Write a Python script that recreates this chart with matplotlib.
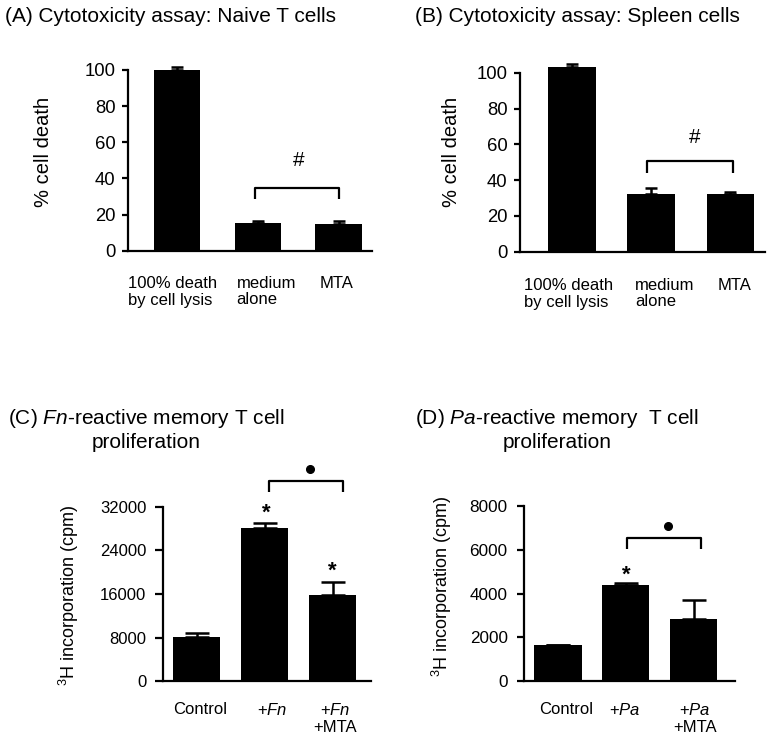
import matplotlib
matplotlib.use("Agg")
import matplotlib.pyplot as plt

plt.rcParams['font.family'] = ['Liberation Sans', 'DejaVu Sans']
plt.rcParams['mathtext.fontset'] = 'custom'
plt.rcParams['mathtext.rm'] = 'Liberation Sans'
plt.rcParams['mathtext.it'] = 'Liberation Sans:italic'

# data
cyto_labels = ['100% death\nby cell lysis', 'medium\nalone', 'MTA']
naive_vals = [100, 15.1, 14.8]
naive_err = [1.5, 1.5, 1.8]
spleen_vals = [103.3, 32.2, 32.2]
spleen_err = [1.3, 3.5, 0.9]

fn_labels = ['Control', '+$\\mathit{Fn}$', '+$\\mathit{Fn}$\n+MTA']
fn_vals = [8120, 28150, 15760]
fn_err = [735, 795, 2440]

pa_labels = ['Control', '+$\\mathit{Pa}$', '+$\\mathit{Pa}$\n+MTA']
pa_vals = [1640, 4380, 2830]
pa_err = [0, 120, 880]

W, H = 771, 741


def box(l, t, r, b):
    return [l / W, 1 - b / H, (r - l) / W, (b - t) / H]


fig = plt.figure(figsize=(W / 100, H / 100), dpi=100)


def draw_bars(rect, vals, errs, width, xlim, ylim, yticks, capsize, tick_fs, tick_len, tick_pad):
    ax = fig.add_axes(rect)
    xs = list(range(len(vals)))
    ax.bar(xs, vals, width=width, color='black', clip_on=False, zorder=2)
    eb = ax.errorbar(xs, vals, yerr=[[0] * len(vals), errs], fmt='none', ecolor='black',
                     elinewidth=1.8, capsize=capsize, capthick=1.8, zorder=3)
    for child in eb.get_children():
        child.set_clip_on(False)
    ax.set_xlim(*xlim)
    ax.set_ylim(*ylim)
    ax.set_yticks(yticks)
    ax.set_xticks([])
    for s in ['top', 'right']:
        ax.spines[s].set_visible(False)
    for s in ['left', 'bottom']:
        ax.spines[s].set_linewidth(1.6)
    ax.tick_params(axis='y', labelsize=tick_fs, length=tick_len, width=1.6, pad=tick_pad)
    ax.patch.set_alpha(0)
    return ax


def cat_labels(ax, labels, xs, dy, ha, fs):
    for lab, x in zip(labels, xs):
        ax.annotate(lab, xy=(x, 0), xycoords=('data', 'axes fraction'), xytext=(0, -dy),
                    textcoords='offset pixels', ha=ha, va='top', fontsize=fs,
                    multialignment=ha, annotation_clip=False, linespacing=1.15)


def bracket(ax, x1, x2, y_end, y_top):
    ax.plot([x1, x1, x2, x2], [y_end, y_top, y_top, y_end], color='black', lw=1.6,
            clip_on=False, solid_capstyle='butt')


# (A)
axA = draw_bars(box(128, 70, 372, 250.7), naive_vals, naive_err, 0.575, (-0.609, 2.414),
                (0, 100), [0, 20, 40, 60, 80, 100], 4, 13.3, 4, 5)
axA.set_ylabel('% cell death', fontsize=14.5, va='center')
axA.yaxis.set_label_coords(-0.345, 0.546)
cat_labels(axA, cyto_labels, [-0.609, 0.737, 1.77], 25, 'left', 12)
bracket(axA, 0.96, 2.01, 28.4, 34.5)
axA.text(1.5, 50, '#', fontsize=15, ha='center', va='center')
fig.text(5 / W, 1 - 17 / H, '(A) Cytotoxicity assay: Naive T cells', fontsize=15,
         ha='left', va='center')

# (B)
axB = draw_bars(box(520, 72.7, 765, 251.7), spleen_vals, spleen_err, 0.6, (-0.657, 2.438),
                (0, 100), [0, 20, 40, 60, 80, 100], 4, 13.3, 4, 5)
axB.set_ylabel('% cell death', fontsize=14.5, va='center')
axB.yaxis.set_label_coords(-0.28, 0.559)
cat_labels(axB, cyto_labels, [-0.606, 0.795, 1.843], 26, 'left', 12)
bracket(axB, 0.95, 2.03, 44.1, 50.6)
axB.text(1.553, 64, '#', fontsize=15, ha='center', va='center')
fig.text(415 / W, 1 - 17 / H, '(B) Cytotoxicity assay: Spleen cells', fontsize=15,
         ha='left', va='center')

# (C)
axC = draw_bars(box(163, 506.7, 371, 681.3), fn_vals, fn_err, 0.687, (-0.496, 2.563),
                (0, 32000), [0, 8000, 16000, 24000, 32000], 8.5, 12, 6, 6)
axC.set_ylabel('$^{3}$H incorporation (cpm)', fontsize=13, va='center')
axC.yaxis.set_label_coords(-0.45, 0.494)
cat_labels(axC, fn_labels, [0.05, 1.107, 2.03], 21, 'center', 12)
bracket(axC, 1.068, 2.156, 34626, 36700)
axC.plot([1.667], [38900], 'o', color='black', markersize=5.5, clip_on=False)
axC.text(1.02, 29800, '*', fontsize=16, fontweight='bold', ha='center', va='baseline')
axC.text(2.0, 19100, '*', fontsize=16, fontweight='bold', ha='center', va='baseline')
fig.text(146 / W, 1 - 429 / H, '(C) $\\mathit{Fn}$-reactive memory T cell\nproliferation',
         fontsize=15, ha='center', va='center', multialignment='center')

# (D)
axD = draw_bars(box(524.3, 506, 735, 681.3), pa_vals, pa_err, 0.697, (-0.497, 2.609),
                (0, 8000), [0, 2000, 4000, 6000, 8000], 8.5, 12.3, 5, 7)
axD.set_ylabel('$^{3}$H incorporation (cpm)', fontsize=13, va='center')
axD.yaxis.set_label_coords(-0.39, 0.541)
cat_labels(axD, pa_labels, [0.118, 0.984, 2.02], 21, 'center', 12)
bracket(axD, 1.021, 2.108, 6023, 6525)
axD.plot([1.617], [7100], 'o', color='black', markersize=5.5, clip_on=False)
axD.text(1.012, 4575, '*', fontsize=16, fontweight='bold', ha='center', va='baseline')
fig.text(557 / W, 1 - 429 / H, '(D) $\\mathit{Pa}$-reactive memory  T cell\nproliferation',
         fontsize=15, ha='center', va='center', multialignment='center')

fig.savefig('out.png', dpi=100)
